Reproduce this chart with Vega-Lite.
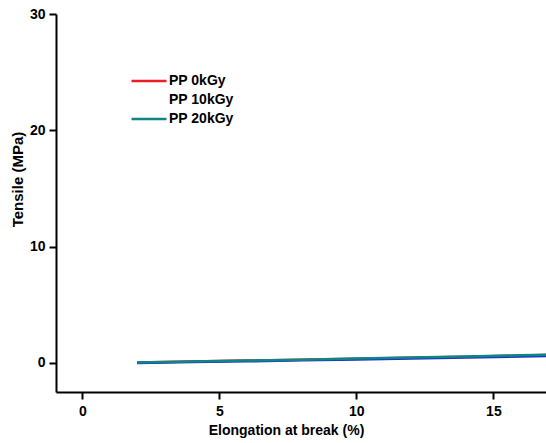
{
  "$schema": "https://vega.github.io/schema/vega-lite/v6.json",
  "width": 490,
  "height": 378,
  "autosize": {"type": "none"},
  "padding": {"left": 56, "top": 14, "right": 0, "bottom": 51},
  "background": "white",
  "config": {
    "view": {"stroke": null},
    "font": "Liberation Sans",
    "axis": {
      "grid": false,
      "domainColor": "black",
      "domainWidth": 2,
      "tickColor": "black",
      "tickWidth": 2,
      "tickSize": 7,
      "labelFont": "Liberation Sans",
      "labelFontWeight": "bold",
      "labelFontSize": 14,
      "labelColor": "black",
      "titleFont": "Liberation Sans",
      "titleFontWeight": "bold",
      "titleFontSize": 14,
      "titleColor": "black"
    }
  },
  "data": {
    "values": [
      {"series": "PP 0kGy", "elong": 2, "tensile": 0.04},
      {"series": "PP 0kGy", "elong": 4, "tensile": 0.12},
      {"series": "PP 0kGy", "elong": 6, "tensile": 0.2},
      {"series": "PP 0kGy", "elong": 8, "tensile": 0.28},
      {"series": "PP 0kGy", "elong": 10, "tensile": 0.36},
      {"series": "PP 0kGy", "elong": 12, "tensile": 0.45},
      {"series": "PP 0kGy", "elong": 14, "tensile": 0.54},
      {"series": "PP 0kGy", "elong": 16, "tensile": 0.64},
      {"series": "PP 0kGy", "elong": 17, "tensile": 0.69},
      {"series": "PP 10kGy", "elong": 2, "tensile": 0.0},
      {"series": "PP 10kGy", "elong": 4, "tensile": 0.07},
      {"series": "PP 10kGy", "elong": 6, "tensile": 0.14},
      {"series": "PP 10kGy", "elong": 8, "tensile": 0.22},
      {"series": "PP 10kGy", "elong": 10, "tensile": 0.3},
      {"series": "PP 10kGy", "elong": 12, "tensile": 0.38},
      {"series": "PP 10kGy", "elong": 14, "tensile": 0.46},
      {"series": "PP 10kGy", "elong": 16, "tensile": 0.55},
      {"series": "PP 10kGy", "elong": 17, "tensile": 0.6},
      {"series": "PP 20kGy", "elong": 2, "tensile": 0.04},
      {"series": "PP 20kGy", "elong": 4, "tensile": 0.12},
      {"series": "PP 20kGy", "elong": 6, "tensile": 0.2},
      {"series": "PP 20kGy", "elong": 8, "tensile": 0.28},
      {"series": "PP 20kGy", "elong": 10, "tensile": 0.37},
      {"series": "PP 20kGy", "elong": 12, "tensile": 0.46},
      {"series": "PP 20kGy", "elong": 14, "tensile": 0.55},
      {"series": "PP 20kGy", "elong": 16, "tensile": 0.65},
      {"series": "PP 20kGy", "elong": 17, "tensile": 0.7}
    ]
  },
  "encoding": {
    "x": {
      "field": "elong",
      "type": "quantitative",
      "scale": {"domain": [-0.96, 16.92], "nice": false, "zero": false},
      "axis": {
        "values": [0, 5, 10, 15],
        "title": "Elongation at break (%)",
        "labelPadding": 5,
        "titleX": 230,
        "titleY": 38,
        "titleAlign": "center",
        "titleBaseline": "middle"
      }
    },
    "y": {
      "field": "tensile",
      "type": "quantitative",
      "scale": {"domain": [-2.5, 30], "nice": false, "zero": false},
      "axis": {
        "values": [0, 10, 20, 30],
        "title": "Tensile (MPa)",
        "titleFontSize": 15,
        "labelPadding": 4,
        "titleX": -39,
        "titleY": 165,
        "titleAlign": "center",
        "titleBaseline": "middle",
        "titleAngle": -90
      }
    }
  },
  "layer": [
    {
      "transform": [{"filter": "datum.series === 'PP 0kGy'"}],
      "mark": {"type": "line", "strokeWidth": 2.5, "clip": true},
      "encoding": {
        "stroke": {
          "field": "series",
          "type": "nominal",
          "scale": {
            "domain": ["PP 0kGy", "PP 10kGy", "PP 20kGy"],
            "range": ["#ee1c25", "#ffffff", "#0f8584"]
          },
          "legend": {
            "title": null,
            "orient": "none",
            "legendX": 72,
            "legendY": 60,
            "symbolType": "M-5,0H5",
            "symbolStrokeWidth": 2.5,
            "symbolSize": 49,
            "symbolOffset": 14,
            "labelFont": "Liberation Sans",
            "labelFontWeight": "bold",
            "labelFontSize": 14,
            "labelColor": "black",
            "rowPadding": 5,
            "labelOffset": 13
          }
        }
      }
    },
    {
      "transform": [{"filter": "datum.series === 'PP 10kGy'"}],
      "mark": {"type": "line", "strokeWidth": 2.5, "clip": true, "stroke": "#1f2fd0"},
      "encoding": {}
    },
    {
      "transform": [{"filter": "datum.series === 'PP 20kGy'"}],
      "mark": {"type": "line", "strokeWidth": 2.5, "clip": true},
      "encoding": {
        "stroke": {"field": "series", "type": "nominal"}
      }
    }
  ]
}
